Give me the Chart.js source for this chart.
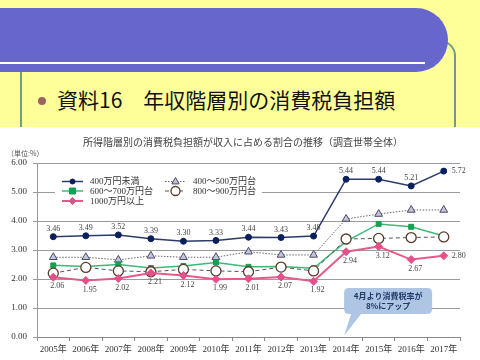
<!DOCTYPE html>
<html>
<head>
<meta charset="utf-8">
<script src="https://cdn.jsdelivr.net/npm/chart.js@4/dist/chart.umd.min.js"></script>
<style>
  html, body { margin: 0; padding: 0; }
  body { width: 480px; height: 360px; background: #ffff99; position: relative; overflow: hidden; font-family: "Noto Sans CJK JP", sans-serif; }
  #banner { position: absolute; left: 0; top: 8px; width: 448px; height: 64px; background: #6666cc; border-radius: 0 32px 32px 0; z-index: 2; }
  #whiteline { position: absolute; left: 0; top: 62px; width: 425px; height: 2px; background: #fff; z-index: 3; }
  #rborder { position: absolute; left: 400px; top: 40px; width: 54px; height: 90px; border-top: 2px solid #6f9c88; border-right: 2px solid #6f9c88; border-top-right-radius: 16px; z-index: 1; }
  #lborder { position: absolute; left: 20px; top: 72px; width: 2px; height: 56px; background: #6f9c88; }
  #bullet { position: absolute; left: 38px; top: 97px; width: 8px; height: 8px; border-radius: 50%; background: #9c6262; }
  #slidetitle { position: absolute; left: 57px; top: 85px; font-size: 21px; line-height: 28px; color: #111; white-space: nowrap; }
  #chartbox { position: absolute; left: 0; top: 127px; width: 480px; height: 233px; background: #fff; z-index: 4; }
  #charttitle { position: absolute; left: 0; width: 480px; top: 8px; text-align: center; font-size: 10px; line-height: 14px; color: #444; padding-left: 6px; box-sizing: border-box; }
  #unit { position: absolute; left: 7px; top: 21px; font-size: 7px; line-height: 10px; color: #555; }
  canvas { position: absolute; left: 0; top: 0; }
</style>
</head>
<body>
<div id="rborder"></div>
<div id="banner"></div>
<div id="whiteline"></div>
<div id="lborder"></div>
<div id="bullet"></div>
<div id="slidetitle">資料16　年収階層別の消費税負担額</div>
<div id="chartbox">
  <canvas id="chart" width="480" height="233"></canvas>
  <div id="charttitle">所得階層別の消費税負担額が収入に占める割合の推移（調査世帯全体）</div>
  <div id="unit">（単位:%）</div>
</div>
<script>
// data
const years = ["2005年", "2006年", "2007年", "2008年", "2009年", "2010年", "2011年",
               "2012年", "2013年", "2014年", "2015年", "2016年", "2017年"];
const under400 = [3.46, 3.49, 3.52, 3.39, 3.30, 3.33, 3.44, 3.43, 3.48, 5.44, 5.44, 5.21, 5.72];
const from400to500 = [2.75, 2.75, 2.66, 2.80, 2.75, 2.75, 2.94, 2.83, 2.83, 4.07, 4.24, 4.38, 4.38];
const from600to700 = [2.47, 2.43, 2.50, 2.38, 2.45, 2.57, 2.42, 2.43, 2.37, 3.30, 3.90, 3.80, 3.48];
const from800to900 = [2.20, 2.40, 2.28, 2.25, 2.33, 2.28, 2.25, 2.41, 2.28, 3.38, 3.40, 3.43, 3.45];
const over1000 = [2.06, 1.95, 2.02, 2.21, 2.12, 1.99, 2.01, 2.07, 1.92, 2.94, 3.12, 2.67, 2.80];
const yTicks = [0, 1, 2, 3, 4, 5, 6];
const calloutText = ["4月より消費税率が", "8%にアップ"];

const serif = '"Liberation Serif", "Noto Sans CJK JP", serif';

function drawMarker(ctx, style, x, y, r, fill, stroke, lw) {
    ctx.save();
    ctx.beginPath();
    if (style === 'circle') {
        ctx.arc(x, y, r, 0, Math.PI * 2);
    } else if (style === 'rect') {
        ctx.rect(x - r, y - r, r * 2, r * 2);
    } else if (style === 'rectRot') {
        ctx.moveTo(x, y - r); ctx.lineTo(x + r, y); ctx.lineTo(x, y + r); ctx.lineTo(x - r, y);
        ctx.closePath();
    } else if (style === 'triangle') {
        ctx.moveTo(x, y - r); ctx.lineTo(x + r * 0.9, y + r * 0.6); ctx.lineTo(x - r * 0.9, y + r * 0.6);
        ctx.closePath();
    }
    ctx.fillStyle = fill;
    ctx.fill();
    ctx.lineWidth = lw;
    ctx.strokeStyle = stroke;
    ctx.stroke();
    ctx.restore();
}

// legend boxed inside the plot, two columns
const legendPlugin = {
    id: 'boxLegend',
    beforeDatasetsDraw(chart) {
        const ctx = chart.ctx;
        const a = chart.chartArea;
        const x0 = a.left, y0 = a.top;
        ctx.save();
        ctx.fillStyle = '#fff';
        ctx.fillRect(x0 + 18, y0 + 12, 207, 32);
        const items = [
            [0, 25, 18.5], [1, 128, 18.5],
            [2, 25, 28], [3, 128, 28],
            [4, 25, 38]
        ];
        items.forEach(([i, lx, ly]) => {
            const ds = chart.data.datasets[i];
            const y = y0 + ly;
            ctx.save();
            ctx.strokeStyle = ds.borderColor;
            ctx.lineWidth = ds.borderWidth;
            ctx.setLineDash(ds.borderDash || []);
            ctx.beginPath();
            ctx.moveTo(x0 + lx, y);
            ctx.lineTo(x0 + lx + 21, y);
            ctx.stroke();
            ctx.restore();
            drawMarker(ctx, ds.pointStyle, x0 + lx + 10.5, y, ds.pointRadius - 0.5,
                ds.pointBackgroundColor, ds.pointBorderColor, ds.pointBorderWidth);
            ctx.fillStyle = '#333';
            ctx.font = '9px ' + serif;
            ctx.textAlign = 'left';
            ctx.textBaseline = 'middle';
            ctx.fillText(ds.label, x0 + lx + 28, y + 0.5);
        });
        ctx.restore();
    }
};

// value labels for the top and bottom series
const valuePlugin = {
    id: 'valueLabels',
    afterDatasetsDraw(chart) {
        const ctx = chart.ctx;
        ctx.save();
        ctx.font = '8px ' + serif;
        ctx.fillStyle = '#444';
        ctx.textBaseline = 'middle';
        chart.data.datasets.forEach((ds, i) => {
            if (!ds.labelSide) return;
            const meta = chart.getDatasetMeta(i);
            meta.data.forEach((pt, j) => {
                const txt = ds.data[j].toFixed(2);
                if (j === ds.data.length - 1) {
                    ctx.textAlign = 'left';
                    ctx.fillText(txt, pt.x + 8, pt.y);
                } else if (ds.labelSide === 'above') {
                    ctx.textAlign = 'center';
                    ctx.fillText(txt, pt.x, pt.y - 8);
                } else {
                    ctx.textAlign = 'center';
                    ctx.fillText(txt, pt.x + 4, pt.y + 9);
                }
            });
        });
        ctx.restore();
    }
};

// callout pointing at April 2014
const calloutPlugin = {
    id: 'callout',
    afterDraw(chart) {
        const ctx = chart.ctx;
        const xs = chart.scales.x, ys = chart.scales.y;
        const cx = xs.getPixelForValue(9);
        const top = ys.getPixelForValue(1.69);
        const bot = ys.getPixelForValue(0.79);
        const tipY = ys.getPixelForValue(0.05);
        const left = cx - 2, right = cx + 86, r = 5;
        ctx.save();
        ctx.fillStyle = '#aec6e4';
        ctx.beginPath();
        ctx.moveTo(left + r, top);
        ctx.lineTo(right - r, top);
        ctx.quadraticCurveTo(right, top, right, top + r);
        ctx.lineTo(right, bot - r);
        ctx.quadraticCurveTo(right, bot, right - r, bot);
        ctx.lineTo(cx + 15, bot);
        ctx.lineTo(cx - 2, tipY);
        ctx.lineTo(cx + 5, bot);
        ctx.lineTo(left + r, bot);
        ctx.quadraticCurveTo(left, bot, left, bot - r);
        ctx.lineTo(left, top + r);
        ctx.quadraticCurveTo(left, top, left + r, top);
        ctx.closePath();
        ctx.fill();
        ctx.fillStyle = '#1f3a68';
        ctx.font = 'bold 8px "Noto Sans CJK JP", sans-serif';
        ctx.textAlign = 'center';
        ctx.textBaseline = 'middle';
        const mid = (left + right) / 2;
        ctx.fillText(calloutText[0], mid, top + 8);
        ctx.fillText(calloutText[1], mid, top + 18);
        ctx.restore();
    }
};

new Chart(document.getElementById('chart'), {
    type: 'line',
    data: {
        labels: years,
        datasets: [
            {
                label: '400万円未満', data: under400, order: 0, labelSide: 'above',
                borderColor: '#2b3a67', borderWidth: 1.5,
                pointStyle: 'circle', pointRadius: 3, pointBackgroundColor: '#0b1f5e',
                pointBorderColor: '#0b1f5e', pointBorderWidth: 1
            },
            {
                label: '400～500万円台', data: from400to500, order: 4,
                borderColor: '#666', borderWidth: 1, borderDash: [1.5, 1.5],
                pointStyle: 'triangle', pointRadius: 4.5, pointBackgroundColor: '#c4c4dc',
                pointBorderColor: '#4a4a6a', pointBorderWidth: 1
            },
            {
                label: '600～700万円台', data: from600to700, order: 3,
                borderColor: '#3dba78', borderWidth: 1.5,
                pointStyle: 'rect', pointRadius: 3.5, pointBackgroundColor: '#14a050',
                pointBorderColor: '#14a050', pointBorderWidth: 1
            },
            {
                label: '800～900万円台', data: from800to900, order: 2,
                borderColor: '#555', borderWidth: 1, borderDash: [4, 3],
                pointStyle: 'circle', pointRadius: 5, pointBackgroundColor: '#fff',
                pointBorderColor: '#5b3b2b', pointBorderWidth: 1.3
            },
            {
                label: '1000万円以上', data: over1000, order: 1, labelSide: 'below',
                borderColor: '#e55a8c', borderWidth: 2,
                pointStyle: 'rectRot', pointRadius: 4, pointBackgroundColor: '#e74f8b',
                pointBorderColor: '#e74f8b', pointBorderWidth: 1
            }
        ]
    },
    options: {
        responsive: false,
        animation: false,
        layout: { padding: { top: 36, right: 20, left: 0, bottom: 0 } },
        plugins: { legend: { display: false }, title: { display: false }, tooltip: { enabled: false } },
        elements: { line: { tension: 0 } },
        scales: {
            x: {
                offset: true,
                grid: { display: true, drawOnChartArea: false, offset: true, tickLength: 4, color: '#888' },
                border: { color: '#888' },
                ticks: { font: { size: 9, family: serif }, color: '#333', padding: 3, maxRotation: 0, autoSkip: false },
                afterFit(scale) { scale.height = 23; }
            },
            y: {
                min: 0, max: 6,
                afterBuildTicks(scale) { scale.ticks = yTicks.map(v => ({ value: v })); },
                grid: { color: '#9a9a9a', tickLength: 4 },
                border: { color: '#9a9a9a' },
                ticks: { font: { size: 9, family: serif }, color: '#333', padding: 6,
                         callback: v => Number(v).toFixed(2) },
                afterFit(scale) { scale.width = 37; }
            }
        }
    },
    plugins: [legendPlugin, valuePlugin, calloutPlugin]
});
</script>
</body>
</html>
